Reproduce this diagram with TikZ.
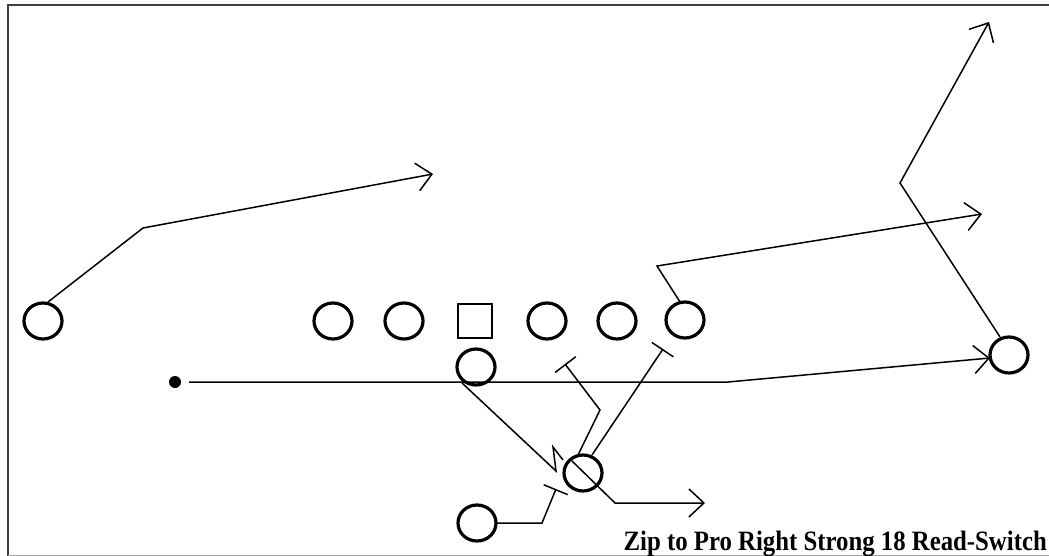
\documentclass[tikz,border=0pt]{standalone}
\usepackage{fontspec}
\setmainfont{Liberation Serif}
\usetikzlibrary{arrows.meta,shapes.geometric}
\begin{document}
\begin{tikzpicture}[x=1pt,y=-1pt,
  player/.style={draw=black,line width=3.2pt,ellipse,minimum width=38pt,minimum height=36pt,inner sep=0pt},
  centerbox/.style={draw=black,line width=2.6pt,rectangle,minimum size=34pt,inner sep=0pt},
  route/.style={draw=black,line width=1.5pt},
  arrowroute/.style={route,-{Straight Barb[length=15pt,width=28pt,line width=1.5pt]}},
  blockroute/.style={route,-{Bar[width=26pt,line width=1.5pt]}},
  frameline/.style={draw=black!75,line width=2.2pt}
]
\useasboundingbox (0,0) rectangle (1049,556);
\fill[white] (0,0) rectangle (1049,556);
% frame
\draw[frameline] (1049,5) -- (8,5) -- (8,556);
\draw[draw=black!35,line width=1pt] (8,555) -- (1049,555);

% players
\node[player] (lwr) at (43,321) {};
\node[player] (lt) at (333,321) {};
\node[player] (lg) at (404,321) {};
\node[centerbox] (c) at (475,321) {};
\node[player] (rg) at (547,321) {};
\node[player] (rt) at (617,321) {};
\node[player] (te) at (685,320) {};
\node[player] (qb) at (476,367) {};
\node[player] (rwr) at (1009,355) {};
\node[player] (fb) at (583,473) {};
\node[player] (rb) at (477,523) {};
\node[circle,fill=black,minimum size=12pt,inner sep=0pt] (dot) at (175,382) {};

% route points
\coordinate (lwrA) at (48,302);
\coordinate (lwrB) at (143,228);
\coordinate (lwrT) at (433,174);

\coordinate (teA) at (680,302);
\coordinate (teB) at (657,266);
\coordinate (teT) at (982,214);

\coordinate (rwrA) at (1000,337);
\coordinate (rwrB) at (900,183);
\coordinate (rwrT) at (989,22);

\coordinate (motA) at (189,382);
\coordinate (motB) at (728,382);
\coordinate (motT) at (990,358);

\coordinate (qbA) at (462,383);
\coordinate (qbT) at (556,471);
\coordinate (zigA) at (553,447);
\coordinate (zigB) at (563,460);

\coordinate (fbA) at (572,461);
\coordinate (fbB) at (615,503);
\coordinate (fbT) at (705,503);

\coordinate (fb1A) at (578,455);
\coordinate (fb1B) at (600,410);
\coordinate (fb1T) at (565,364);

\coordinate (fb2A) at (592,455);
\coordinate (fb2T) at (663,349);

\coordinate (rbA) at (497,523);
\coordinate (rbB) at (542,523);
\coordinate (rbT) at (556,489);

% routes
\draw[arrowroute] (lwrA) -- (lwrB) -- (lwrT);
\draw[arrowroute] (teA) -- (teB) -- (teT);
\draw[arrowroute] (rwrA) -- (rwrB) -- (rwrT);
\draw[arrowroute] (motA) -- (motB) -- (motT);
\draw[route] (qbA) -- (qbT) -- (zigA) -- (zigB);
\draw[arrowroute] (fbA) -- (fbB) -- (fbT);
\draw[blockroute] (fb1A) -- (fb1B) -- (fb1T);
\draw[blockroute] (fb2A) -- (fb2T);
\draw[blockroute] (rbA) -- (rbB) -- (rbT);

% title
\node[anchor=base east,inner sep=0pt,font=\fontsize{28pt}{30pt}\selectfont\bfseries] (title) at (1047,550) {\scalebox{0.885}[1]{Zip to Pro Right Strong 18 Read-Switch}};
\end{tikzpicture}
\end{document}
